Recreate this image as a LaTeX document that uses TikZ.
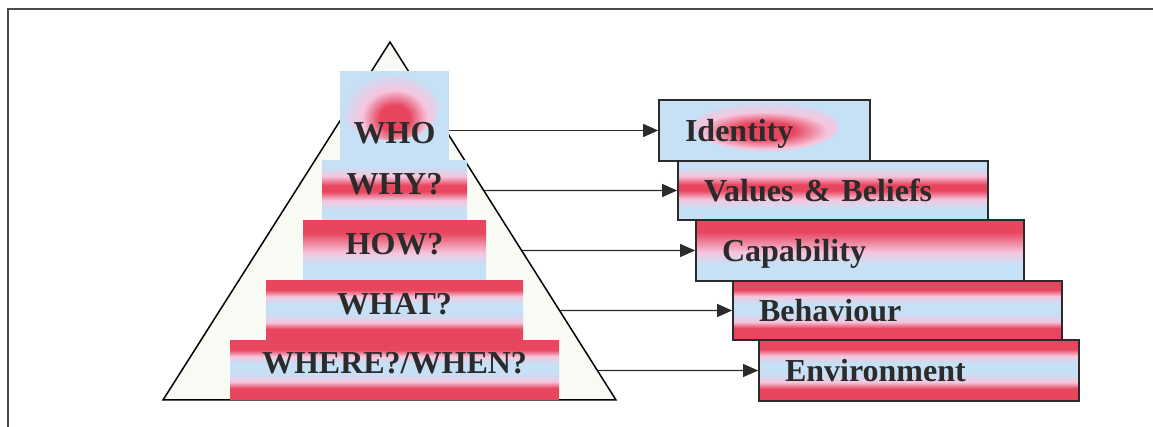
\documentclass[tikz,border=0pt]{standalone}
\usepackage{fontspec}
\setmainfont{Liberation Serif}
\usepackage{tikz}
\usetikzlibrary{arrows.meta}
\definecolor{stripered}{HTML}{E8465F}
\definecolor{stripepink}{HTML}{F5C6DE}
\definecolor{stripeblue}{HTML}{C6E0F6}
\definecolor{pyrfill}{HTML}{F7FBF4}
\definecolor{inkgray}{HTML}{2B2B2B}

% stripes go bottom to top, the box itself covers 25bp..75bp
\pgfdeclareverticalshading{redblue}{100bp}{color(0bp)=(stripered); color(35bp)=(stripered); color(40.5bp)=(stripepink); color(47.5bp)=(stripeblue); color(56bp)=(stripeblue); color(62bp)=(stripepink); color(67.5bp)=(stripered); color(100bp)=(stripered)}
\pgfdeclareverticalshading{redtop}{100bp}{color(0bp)=(stripeblue); color(39bp)=(stripeblue); color(48.5bp)=(stripepink); color(65bp)=(stripered); color(100bp)=(stripered)}
\pgfdeclareverticalshading{bluered}{100bp}{color(0bp)=(stripeblue); color(35bp)=(stripeblue); color(42.5bp)=(stripepink); color(50bp)=(stripered); color(55bp)=(stripered); color(62.5bp)=(stripepink); color(70bp)=(stripeblue); color(100bp)=(stripeblue)}
% red spot fading into the blue
\pgfdeclareradialshading{glow}{\pgfpoint{0bp}{0bp}}{color(0bp)=(stripered); color(7bp)=(stripered); color(15bp)=(stripepink); color(25bp)=(stripeblue); color(50bp)=(stripeblue)}

\begin{document}
\begin{tikzpicture}[x=1pt,y=1pt,
    font=\fontsize{32}{36}\selectfont\bfseries,
    pyrbox/.style={inner sep=0pt, text=inkgray, text height=21pt, text depth=14pt},
    lvlbox/.style={draw=inkgray, line width=1.8pt, inner xsep=26pt, inner ysep=0pt,
      align=left, text=inkgray, text height=23pt, text depth=0pt},
    link/.style={draw=inkgray, line width=1.3pt, -{Triangle[length=15pt,width=13pt]}}]
  \clip (0,0) rectangle (1153,427);
  % frame
  \draw[line width=2pt, draw=inkgray!85] (8,-10) -- (8,418) -- (1170,418);

  % pyramid
  \coordinate (apex) at (390,385);
  \coordinate (baseL) at (163,27);
  \coordinate (baseR) at (616,27);
  \draw[line width=1.5pt, fill=pyrfill] (baseL) -- (apex) -- (baseR) -- cycle;

  \node[pyrbox, fill=stripeblue, minimum width=109pt, minimum height=94pt, text height=51pt, text depth=0pt,
    path picture={\shade[shading=glow] ([shift={(-4.5,10)}]path picture bounding box.center) ellipse (48pt and 32pt);}]
    (who) at (394.5,309) {WHO};
  \node[pyrbox, shade, shading=bluered, minimum width=145pt, minimum height=61pt] (why) at (394.5,235.5) {WHY?};
  \node[pyrbox, shade, shading=redtop, minimum width=183pt, minimum height=60pt] (how) at (394.5,176) {HOW?};
  \node[pyrbox, shade, shading=redblue, minimum width=257pt, minimum height=60pt] (what) at (394.5,116) {WHAT?};
  \node[pyrbox, shade, shading=redblue, minimum width=329pt, minimum height=59pt] (where) at (394.5,56.5) {WHERE?/WHEN?};

  % levels
  \node[lvlbox, fill=stripeblue, text width=159pt, minimum height=61pt,
    path picture={\shade[shading=glow] ([shift={(2,3.5)}]path picture bounding box.center) ellipse (72pt and 24pt);}]
    (ident) at (764.5,296.5) {Identity};
  \node[lvlbox, shade, shading=bluered, text width=258pt, minimum height=59pt] (vals) at (833,236.5) {Values \& Beliefs};
  \node[lvlbox, shade, shading=redtop, text width=276pt, minimum height=61pt] (capab) at (860,176.5) {Capability};
  \node[lvlbox, shade, shading=redblue, text width=277pt, minimum height=59pt] (behav) at (897.5,116.5) {Behaviour};
  \node[lvlbox, shade, shading=redblue, text width=268pt, minimum height=61pt] (envir) at (919,56.5) {Environment};

  % arrows
  \draw[link] (who.east |- ident.west) -- (ident.west);
  \draw[link] (intersection of apex--baseR and vals.west--vals.center) -- (vals.west);
  \draw[link] (intersection of apex--baseR and capab.west--capab.center) -- (capab.west);
  \draw[link] (intersection of apex--baseR and behav.west--behav.center) -- (behav.west);
  \draw[link] (intersection of apex--baseR and envir.west--envir.center) -- (envir.west);
\end{tikzpicture}
\end{document}
